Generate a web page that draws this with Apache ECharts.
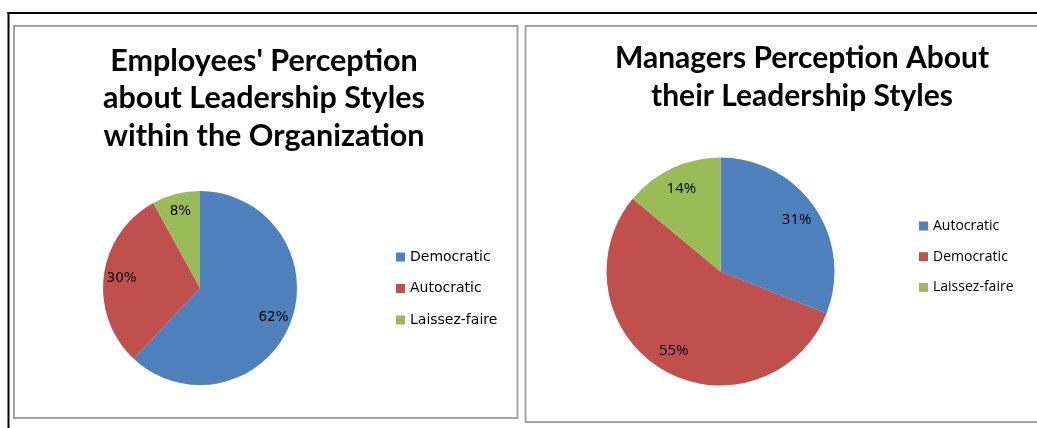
<!DOCTYPE html>
<html>
<head>
<meta charset="utf-8">
<script src="https://cdn.jsdelivr.net/npm/echarts@6/dist/echarts.min.js"></script>
<style>
  html, body { margin: 0; padding: 0; background: #fff; }
  #chart { width: 1037px; height: 428px; }
</style>
</head>
<body>
<div id="chart"></div>
<script>
// Employees' view of leadership styles
const employeeTitle = "Employees' Perception\nabout Leadership Styles\nwithin the Organization";
const employeeStyles = ['Democratic', 'Autocratic', 'Laissez-faire'];
const employeeShares = [62, 30, 8];
const employeeColors = ['#4F81BD', '#C0504D', '#9BBB59'];

// Managers' view of their own leadership styles
const managerTitle = "Managers Perception About\ntheir Leadership Styles";
const managerStyles = ['Autocratic', 'Democratic', 'Laissez-faire'];
const managerShares = [31, 55, 14];
const managerColors = ['#4F81BD', '#C0504D', '#9BBB59'];

function sliceData(names, values, colors) {
  return names.map((n, i) => ({ name: n, value: values[i], itemStyle: { color: colors[i] } }));
}
function labelData(names, values) {
  return names.map((n, i) => ({ name: n, value: values[i] }));
}
function legendData(names, colors) {
  return names.map((n, i) => ({ name: n, icon: 'rect', itemStyle: { color: colors[i] } }));
}

const chart = echarts.init(document.getElementById('chart'), null, { renderer: 'canvas' });

const pieBase = {
  type: 'pie',
  startAngle: 90,
  clockwise: true,
  animation: false,
  silent: true,
  emphasis: { disabled: true },
  labelLine: { show: false }
};

chart.setOption({
  backgroundColor: '#ffffff',
  animation: false,
  graphic: [
    // outer frame
    { type: 'rect', shape: { x: 7.5, y: 12, width: 1040, height: 2 }, style: { fill: '#000' } },
    { type: 'rect', shape: { x: 7.5, y: 12, width: 2, height: 420 }, style: { fill: '#000' } },
    // chart panels
    { type: 'rect', shape: { x: 14, y: 26, width: 503.5, height: 392 }, style: { fill: 'none', stroke: '#a3a3a3', lineWidth: 2 } },
    { type: 'rect', shape: { x: 525.5, y: 26, width: 520, height: 396 }, style: { fill: 'none', stroke: '#a3a3a3', lineWidth: 2 } }
  ],
  title: [
    {
      text: employeeTitle, left: 264, top: 42, textAlign: 'center', padding: 0,
      textStyle: { fontFamily: 'Lato', fontWeight: 'bold', fontSize: 30.5, lineHeight: 37.5, color: '#000' }
    },
    {
      text: managerTitle, left: 802, top: 40, textAlign: 'center', padding: 0,
      textStyle: { fontFamily: 'Lato', fontWeight: 'bold', fontSize: 30, lineHeight: 37.5, color: '#000' }
    }
  ],
  legend: [
    {
      orient: 'vertical', left: 396, top: 249, padding: 0,
      itemWidth: 9, itemHeight: 9, itemGap: 15.5,
      selectedMode: false,
      data: legendData(employeeStyles, employeeColors),
      textStyle: { fontFamily: 'DejaVu Sans', fontSize: 14, lineHeight: 16, color: '#000' }
    },
    {
      orient: 'vertical', left: 919, top: 218, padding: 0,
      itemWidth: 9, itemHeight: 9, itemGap: 14.7,
      selectedMode: false,
      data: legendData(managerStyles, managerColors),
      textStyle: { fontFamily: 'Open Sans', fontSize: 14, lineHeight: 16, color: '#000' }
    }
  ],
  series: [
    Object.assign({}, pieBase, {
      name: 'employees',
      center: [200, 288], radius: [0, 97],
      label: { show: false },
      data: sliceData(employeeStyles, employeeShares, employeeColors)
    }),
    Object.assign({}, pieBase, {
      name: 'employees-labels',
      center: [200, 288], radius: [55, 97],
      itemStyle: { color: 'rgba(0,0,0,0)' },
      label: { show: true, position: 'inside', formatter: '{c}%', fontFamily: 'DejaVu Sans', fontSize: 13.5, color: '#000' },
      data: labelData(employeeStyles, employeeShares)
    }),
    Object.assign({}, pieBase, {
      name: 'managers',
      center: [720.5, 271.5], radius: [0, 114],
      label: { show: false },
      data: sliceData(managerStyles, managerShares, managerColors)
    }),
    Object.assign({}, pieBase, {
      name: 'managers-labels',
      center: [720.5, 271.5], radius: [64, 114],
      itemStyle: { color: 'rgba(0,0,0,0)' },
      label: { show: true, position: 'inside', formatter: '{c}%', fontFamily: 'Open Sans', fontSize: 15, color: '#000' },
      data: labelData(managerStyles, managerShares)
    })
  ]
});
</script>
</body>
</html>
